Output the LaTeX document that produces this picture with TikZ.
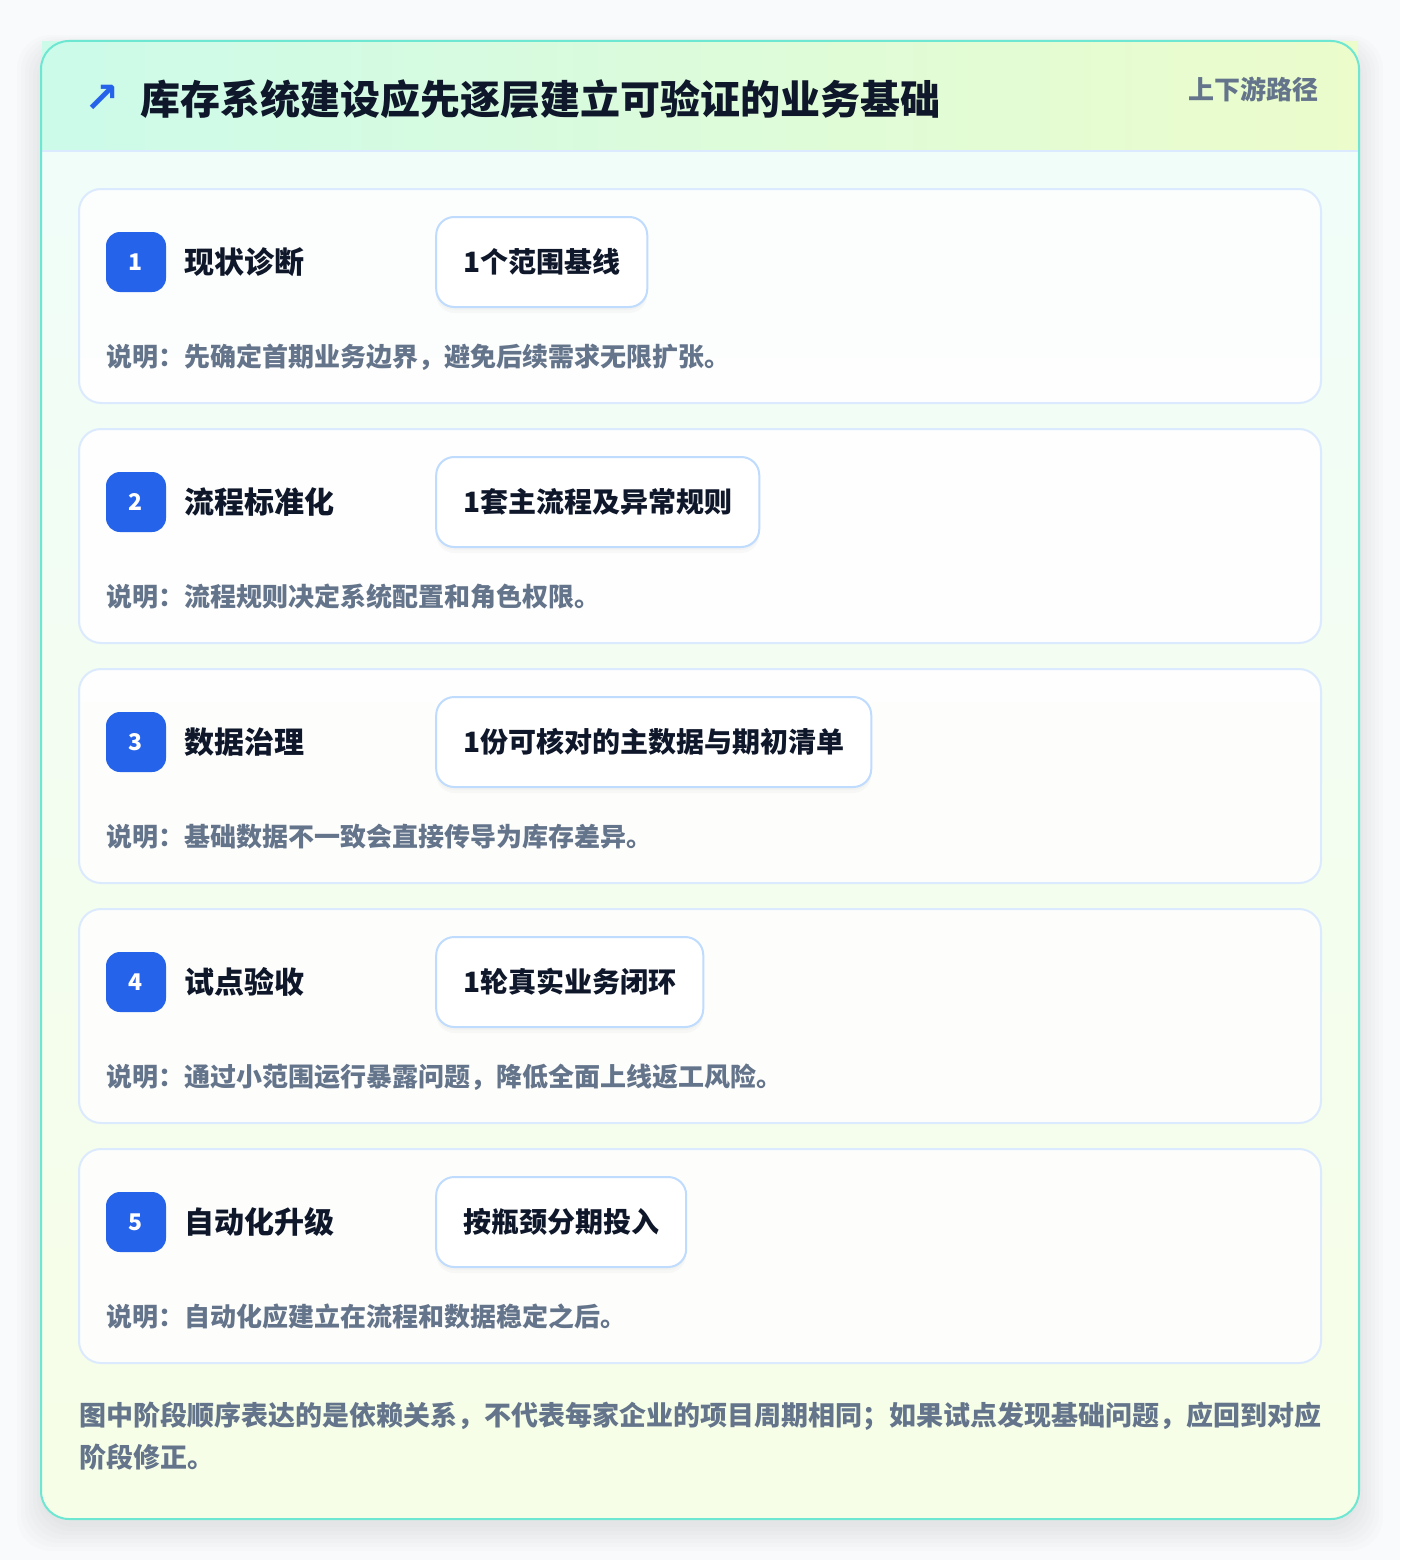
\documentclass[tikz,border=0pt]{standalone}
\usepackage{fontspec}
\setmainfont{Noto Sans CJK SC}
\newfontfamily\symfont{DejaVu Sans}
\usetikzlibrary{positioning}

\definecolor{pagebg}{HTML}{F8FAFC}
\definecolor{tealedge}{HTML}{6EE7D2}
\definecolor{headleft}{HTML}{CCFBEA}
\definecolor{headright}{HTML}{ECFCCB}
\definecolor{bodytop}{HTML}{F0FDFA}
\definecolor{bodybottom}{HTML}{F7FEE7}
\definecolor{cardedge}{HTML}{DBEAFE}
\definecolor{pilledge}{HTML}{BFDBFE}
\definecolor{badgeblue}{HTML}{2563EB}
\definecolor{inkdark}{HTML}{0F172A}
\definecolor{inkgray}{HTML}{64748B}

\newcommand{\fsz}[1]{\fontsize{#1}{#1}\selectfont\bfseries}

\begin{document}
\begin{tikzpicture}[x=1pt, y=-1pt, style={
    cardstyle/.style={
      rectangle, rounded corners=22pt,
      minimum width=1242pt, minimum height=214pt,
      draw=cardedge, line width=2pt,
      fill=white, fill opacity=0.85,
    },
    badgestyle/.style={
      rectangle, rounded corners=14pt,
      minimum size=60pt, inner sep=0pt,
      fill=badgeblue, text=white,
      font=\fsz{23},
    },
    titlestyle/.style={
      inner sep=0pt, text=inkdark,
      font=\fsz{30},
    },
    pillstyle/.style={
      rectangle, rounded corners=18pt,
      minimum height=90pt, inner xsep=27pt,
      draw=pilledge, line width=2pt, fill=white,
      text=inkdark, font=\fsz{28},
      preaction={fill=black, opacity=0.025, transform canvas={yshift=-6pt}},
      preaction={fill=black, opacity=0.02, transform canvas={yshift=-3pt}},
    },
    notestyle/.style={
      inner sep=0pt, anchor=west, text=inkgray,
      font=\fsz{26},
    },
    softshadow/.style={
      fill=black, opacity=0.012, rounded corners=34pt,
    },
  }]
  \useasboundingbox (0,0) rectangle (1400,1560);
  \fill[pagebg] (0,0) rectangle (1400,1560);

  % outer card
  \fill[softshadow] (17,35) rectangle (1383,1551);
  \fill[softshadow] (21,37) rectangle (1379,1547);
  \fill[softshadow] (25,39) rectangle (1375,1543);
  \fill[softshadow] (29,41) rectangle (1371,1539);
  \fill[softshadow] (33,43) rectangle (1367,1535);
  \fill[softshadow] (37,45) rectangle (1363,1531);
  \fill[softshadow] (40,47) rectangle (1360,1527);
  \shade[top color=bodytop, bottom color=bodybottom, rounded corners=28pt]
    (41,41) rectangle (1359,1519);
  \shade[left color=headleft, right color=headright]
    (42,42) rectangle (1358,151);
  \draw[cardedge, line width=2pt] (42,151) -- (1358,151);
  \draw[tealedge, line width=2pt, rounded corners=28pt]
    (41,41) rectangle (1359,1519);

  % header
  \node[inner sep=0pt, text=badgeblue, font=\symfont\bfseries\fontsize{42}{42}\selectfont]
    (icon) at (102,99) {↗};
  \node[inner sep=0pt, anchor=west, text=inkdark, font=\fsz{40}]
    (heading) at (140,99) {库存系统建设应先逐层建立可验证的业务基础};
  \node[inner sep=0pt, anchor=east, text=inkgray, font=\fsz{26}]
    (route) at (1319,89) {上下游路径};

  % step 1
  \node[cardstyle] (card1) at (700,296) {};
  \node[badgestyle] (badge1) at (136,262) {1};
  \node[titlestyle, right=18pt of badge1] (title1) {现状诊断};
  \node[pillstyle, right=269pt of badge1] (pill1) {1个范围基线};
  \node[notestyle] (note1) at (106,357) {说明：先确定首期业务边界，避免后续需求无限扩张。};

  % step 2
  \node[cardstyle] (card2) at (700,536) {};
  \node[badgestyle] (badge2) at (136,502) {2};
  \node[titlestyle, right=18pt of badge2] (title2) {流程标准化};
  \node[pillstyle, right=269pt of badge2] (pill2) {1套主流程及异常规则};
  \node[notestyle] (note2) at (106,597) {说明：流程规则决定系统配置和角色权限。};

  % step 3
  \node[cardstyle] (card3) at (700,776) {};
  \node[badgestyle] (badge3) at (136,742) {3};
  \node[titlestyle, right=18pt of badge3] (title3) {数据治理};
  \node[pillstyle, right=269pt of badge3] (pill3) {1份可核对的主数据与期初清单};
  \node[notestyle] (note3) at (106,837) {说明：基础数据不一致会直接传导为库存差异。};

  % step 4
  \node[cardstyle] (card4) at (700,1016) {};
  \node[badgestyle] (badge4) at (136,982) {4};
  \node[titlestyle, right=18pt of badge4] (title4) {试点验收};
  \node[pillstyle, right=269pt of badge4] (pill4) {1轮真实业务闭环};
  \node[notestyle] (note4) at (106,1077) {说明：通过小范围运行暴露问题，降低全面上线返工风险。};

  % step 5
  \node[cardstyle] (card5) at (700,1256) {};
  \node[badgestyle] (badge5) at (136,1222) {5};
  \node[titlestyle, right=18pt of badge5] (title5) {自动化升级};
  \node[pillstyle, right=269pt of badge5] (pill5) {按瓶颈分期投入};
  \node[notestyle] (note5) at (106,1317) {说明：自动化应建立在流程和数据稳定之后。};

  % footer
  \node[inner sep=0pt, anchor=north west, align=left, text=inkgray,
    font=\fontsize{27}{42}\selectfont\bfseries] (footer) at (79,1402)
    {图中阶段顺序表达的是依赖关系，不代表每家企业的项目周期相同；如果试点发现基础问题，应回到对应\\
     阶段修正。};
\end{tikzpicture}
\end{document}
